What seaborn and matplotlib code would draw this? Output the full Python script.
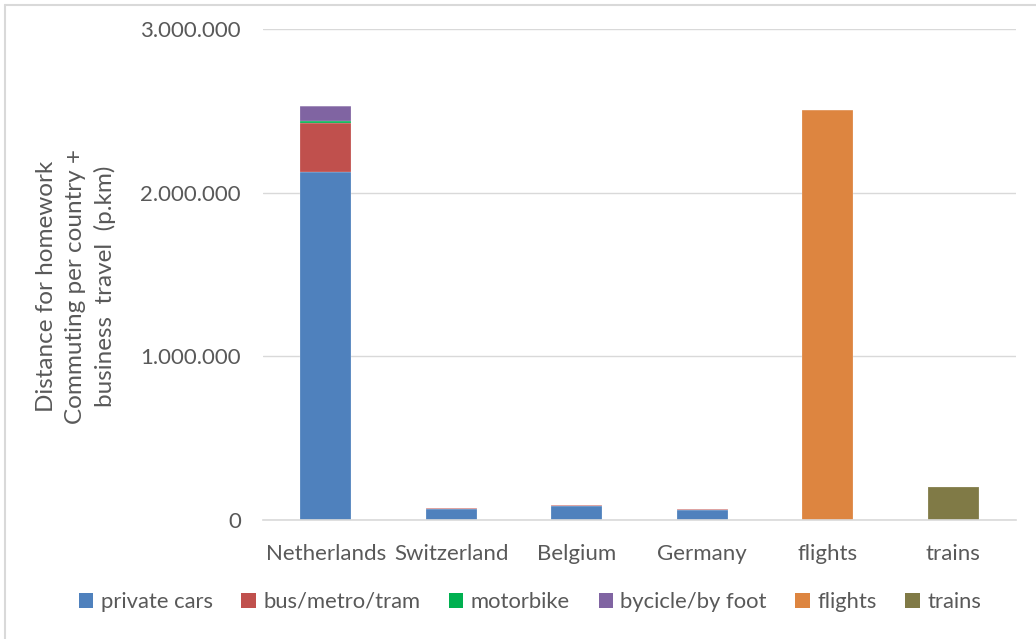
import matplotlib
matplotlib.use("Agg")
import matplotlib.pyplot as plt
from matplotlib.ticker import FuncFormatter
from matplotlib.patches import Patch
from matplotlib.lines import Line2D
import seaborn as sns
import numpy as np

categories = ["Netherlands", "Switzerland", "Belgium", "Germany", "flights", "trains"]
private_cars = [2124000, 69000, 83000, 59000, 0, 0]
bus_metro_tram = [301000, 7000, 6000, 8000, 0, 0]
motorbike = [12000, 0, 0, 0, 0, 0]
bicycle_foot = [90000, 0, 0, 0, 0, 0]
flights = [0, 0, 0, 0, 2505000, 0]
trains = [0, 0, 0, 0, 0, 203000]

series_names = ["private cars", "bus/metro/tram", "motorbike", "bycicle/by foot", "flights", "trains"]
series_values = [private_cars, bus_metro_tram, motorbike, bicycle_foot, flights, trains]
colors = ["#4F81BD", "#C0504D", "#00B050", "#8064A2", "#DD8540", "#807A46"]
y_ticks = [0, 1000000, 2000000, 3000000]

sns.set_theme(style="white")
plt.rcParams["font.family"] = ["Lato", "DejaVu Sans"]

fig = plt.figure(figsize=(10.36, 6.39), dpi=100)
ax = fig.add_axes([263 / 1036, 1 - 520 / 639, (1016 - 263) / 1036, (520 - 29) / 639])

bottom = np.zeros(len(categories))
for name, vals, col in zip(series_names, series_values, colors):
    v = np.array(vals, dtype=float)
    sns.barplot(x=categories, y=v, bottom=bottom, color=col, width=0.41,
                ax=ax, saturation=1, edgecolor="#FFFFFF80", linewidth=0.3)
    bottom = bottom + v

ax.set_ylim(0, 3000000)
ax.set_yticks(y_ticks)
ax.yaxis.set_major_formatter(FuncFormatter(lambda v, p: f"{int(v):,}".replace(",", ".")))
ax.yaxis.grid(True, color="#D9D9D9", linewidth=1)
ax.set_axisbelow(True)
for s in ["top", "right", "left"]:
    ax.spines[s].set_visible(False)
ax.spines["bottom"].set_color("#D9D9D9")
ax.spines["bottom"].set_linewidth(1.2)
ax.tick_params(axis="both", length=0, labelsize=16, colors="#595959")
ax.tick_params(axis="y", pad=16)
ax.tick_params(axis="x", pad=17)
ax.set_xlabel("")
ax.set_ylabel("")

fig.text(76 / 1036, 1 - 286 / 639,
         "Distance for homework\nCommuting per country +\nbusiness  travel  (p.km)",
         rotation=90, ha="center", va="center", multialignment="center",
         fontsize=17.5, color="#595959", linespacing=1.47)

handles = [Patch(facecolor=c, edgecolor="none") for c in colors]
fig.legend(handles, series_names, loc="center", bbox_to_anchor=(530 / 1036, 1 - 602 / 639),
           ncol=6, frameon=False, fontsize=15.8, labelcolor="#595959",
           handlelength=0.65, handleheight=0.65, handletextpad=0.35, columnspacing=1.3)

# figure frame (left & top edges)
fig.add_artist(Line2D([5 / 1036, 5 / 1036], [0, 1 - 5 / 639], transform=fig.transFigure,
                      color="#D9D9D9", linewidth=1.5))
fig.add_artist(Line2D([5 / 1036, 1], [1 - 5 / 639, 1 - 5 / 639], transform=fig.transFigure,
                      color="#D9D9D9", linewidth=1.5))

fig.savefig("out.png", dpi=100)
